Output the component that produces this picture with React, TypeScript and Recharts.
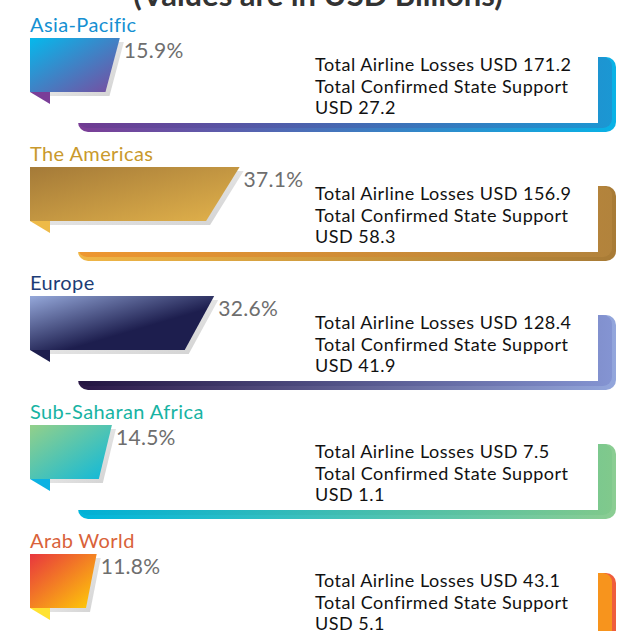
import React from 'react';
import { BarChart, Bar, XAxis, YAxis } from 'recharts';

// regions and their values (USD billions)
const regions = ['Asia-Pacific', 'The Americas', 'Europe', 'Sub-Saharan Africa', 'Arab World'];
const shares = [15.9, 37.1, 32.6, 14.5, 11.8];
const losses = [171.2, 156.9, 128.4, 7.5, 43.1];
const support = [27.2, 58.3, 41.9, 1.1, 5.1];

// colours per region
const labelColors = ['#1590d2', '#c9992c', '#1c3c76', '#17b3a3', '#d9623a'];
const barFrom = ['#05b9ec', '#a47a38', '#95a8da', '#93d08a', '#e8363e'];
const barTo = ['#7b4a9e', '#e2b24b', '#1d1e4e', '#0db8dc', '#ffd006'];
const foldColors = ['#7a3e98', '#eeba48', '#1d1e4e', '#0cb2e2', '#ffe232'];
const frameFrom = ['#7b3d96', '#f0b646', '#2b1847', '#00b6dc', '#f28a2a'];
const frameTo = ['#09b2e6', '#a87b36', '#93a6dc', '#8bcd92', '#ef5d3c'];
const innerFrom = ['#6f3a91', '#ee9630', '#231440', '#00b0d6', '#f7941d'];
const innerTo = ['#1b97d3', '#b2833c', '#8494d2', '#80c98c', '#f7941d'];

const data = regions.map((region, i) => ({
  region,
  share: shares[i],
  losses: losses[i],
  support: support[i],
}));

const FONT = 'Lato, "Liberation Sans", sans-serif';
const ROW = 129;

function RibbonBar(props: any) {
  const { x, y, width, height, index, payload } = props;
  const s = width * 0.16;
  const top = y + 19;
  const bottom = y + 94;
  const fl = 78;
  const fr = 616;
  return (
    <g>
      <defs>
        <linearGradient id={`bar${index}`} x1="0" y1="0" x2="1" y2="1">
          <stop offset="0%" stopColor={barFrom[index]} />
          <stop offset={index === 2 ? '60%' : '100%'} stopColor={barTo[index]} />
        </linearGradient>
        <linearGradient id={`fo${index}`} x1="0" y1="0" x2="1" y2="0">
          <stop offset="0%" stopColor={frameFrom[index]} />
          <stop offset="100%" stopColor={frameTo[index]} />
        </linearGradient>
        <linearGradient id={`fi${index}`} x1="0" y1="0" x2="1" y2="0">
          <stop offset="0%" stopColor={innerFrom[index]} />
          <stop offset="100%" stopColor={innerTo[index]} />
        </linearGradient>
        <linearGradient id={`sh${index}`} x1="0" y1="0" x2="1" y2="1">
          <stop offset="0%" stopColor="#f2f2f2" />
          <stop offset="100%" stopColor="#d2d2d2" />
        </linearGradient>
      </defs>

      {/* frame behind the figures */}
      <rect x={fl} y={top} width={fr - fl} height={bottom - top} rx={10} fill={`url(#fo${index})`} />
      <rect x={fl} y={top} width={fr - 4 - fl} height={bottom - 4 - top} rx={9} fill={`url(#fi${index})`} />
      <rect x={fl - 20} y={top - 12} width={598 - fl + 20} height={bottom - 9 - top + 12} fill="#ffffff" />

      {/* shadow, fold, ribbon */}
      <polygon
        points={`${x + 20},${y + 4} ${x + width + 4},${y + 4} ${x + width - s + 4},${y + height + 4} ${x + 20},${y + height + 4}`}
        fill={`url(#sh${index})`}
      />
      <polygon
        points={`${x},${y + height} ${x + 20},${y + height} ${x + 20},${y + height + 12}`}
        fill={foldColors[index]}
      />
      <polygon
        points={`${x},${y} ${x + width},${y} ${x + width - s},${y + height} ${x},${y + height}`}
        fill={`url(#bar${index})`}
      />

      <text x={x} y={y - 6} fontSize={20} letterSpacing={0.4} fill={labelColors[index]} fontFamily={FONT}>
        {payload.region}
      </text>
      <text x={x + width + 4} y={y + 20} fontSize={21} letterSpacing={0.3} fill="#6e6e6e" fontFamily={FONT}>
        {`${payload.share}%`}
      </text>

      <text x={315} fontSize={18} letterSpacing={0.5} fill="#111111" fontFamily={FONT}>
        <tspan x={315} y={y + 33}>{`Total Airline Losses USD ${payload.losses}`}</tspan>
        <tspan x={315} y={y + 54.5}>Total Confirmed State Support</tspan>
        <tspan x={315} y={y + 76}>{`USD ${payload.support}`}</tspan>
      </text>
    </g>
  );
}

export default function App() {
  return (
    <div style={{ position: 'absolute', left: 0, top: 0, width: 631, height: 631, overflow: 'hidden', background: '#fff' }}>
      <BarChart
        width={631}
        height={ROW * regions.length}
        data={data}
        layout="vertical"
        margin={{ top: 0, right: 36, left: 30, bottom: 0 }}
      >
        <XAxis type="number" domain={[0, 100]} hide />
        <YAxis type="category" dataKey="region" hide />
        <text x={318} y={6} textAnchor="middle" fontSize={31} fontWeight={700} fill="#333333" fontFamily={FONT}>
          (Values are in USD Billions)
        </text>
        <Bar dataKey="share" barSize={54} shape={<RibbonBar />} isAnimationActive={false} />
      </BarChart>
    </div>
  );
}
